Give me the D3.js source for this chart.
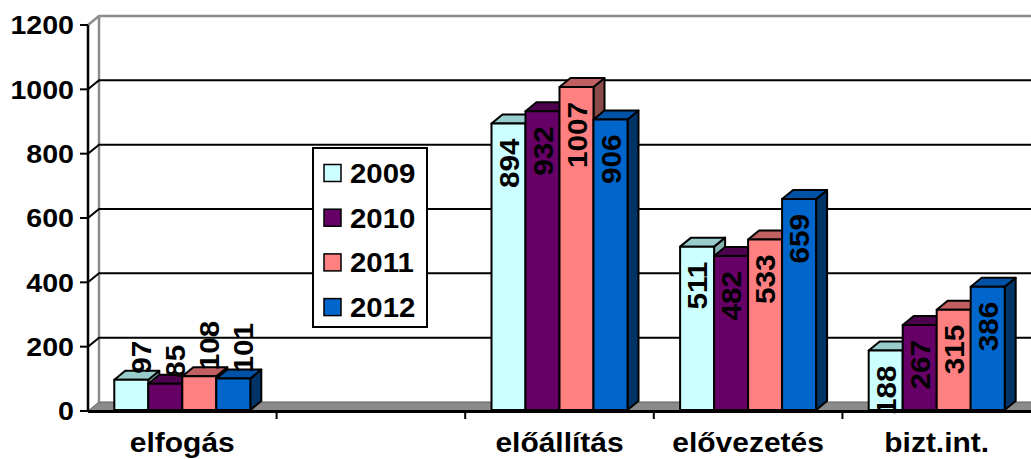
<!DOCTYPE html>
<html><head><meta charset="utf-8">
<script src="https://cdn.jsdelivr.net/npm/d3@7/dist/d3.min.js"></script>
<style>body{margin:0;background:#fff}svg{display:block}text{font-family:Arial,"Liberation Sans",sans-serif;font-weight:bold;fill:#000}</style>
</head><body>
<svg id="c" width="1031" height="459"></svg>
<script>
const categories = ["elfogás", "", "előállítás", "elővezetés", "bizt.int."];
const seriesNames = ["2009", "2010", "2011", "2012"];
const values2009 = [97, null, 894, 511, 188];
const values2010 = [85, null, 932, 482, 267];
const values2011 = [108, null, 1007, 533, 315];
const values2012 = [101, null, 906, 659, 386];
const yTicks = [0, 200, 400, 600, 800, 1000, 1200];

const seriesValues = [values2009, values2010, values2011, values2012];
const front = ["#CCFFFF", "#660066", "#FF8080", "#0066CC"];
const topC = ["#99CCCC", "#4D004D", "#C06060", "#0052A6"];
const sideC = ["#88B3B3", "#330033", "#8B4A4A", "#003366"];

const svg = d3.select("#c");
const X0 = 88, X1 = 1031, Y0 = 411, Y1 = 25, DX = 11, DY = 9;
const x = d3.scaleBand().domain(d3.range(categories.length)).range([X0, X1]).paddingInner(0).paddingOuter(0);
const y = d3.scaleLinear().domain([0, 1200]).range([Y0, Y1]);
const bw = 34;
const groupW = bw * seriesNames.length;

// floor
svg.append("path").attr("d", `M${X0},${Y0}L${X1+20},${Y0}L${X1+20+DX},${Y0-DY}L${X0+DX},${Y0-DY}Z`)
  .attr("fill", "#8a8a8a").attr("stroke", "#606060").attr("stroke-width", 1);

// back wall border
svg.append("path").attr("d", `M${X0},${y(1200)}L${X0+DX},${y(1200)-DY}L${X1+5},${y(1200)-DY}`)
  .attr("fill", "none").attr("stroke", "#8c8c8c").attr("stroke-width", 2.5);
svg.append("line").attr("x1", X0+DX).attr("x2", X0+DX).attr("y1", y(1200)-DY).attr("y2", Y0-DY)
  .attr("stroke", "#8c8c8c").attr("stroke-width", 2.5);

// gridlines
yTicks.filter(t => t > 0 && t < 1200).forEach(t => {
  svg.append("path").attr("d", `M${X0},${y(t)}L${X0+DX},${y(t)-DY}L${X1+5},${y(t)-DY}`)
    .attr("fill", "none").attr("stroke", "#000").attr("stroke-width", 2);
});

// y axis
svg.append("line").attr("x1", X0).attr("x2", X0).attr("y1", y(1200)).attr("y2", Y0+1)
  .attr("stroke", "#000").attr("stroke-width", 2.5);
yTicks.forEach(t => {
  svg.append("line").attr("x1", X0-8).attr("x2", X0).attr("y1", y(t)).attr("y2", y(t))
    .attr("stroke", "#000").attr("stroke-width", 2);
  svg.append("text").attr("transform", `translate(74,${y(t)}) scale(1.1,1)`).attr("dy", "0.36em").attr("text-anchor", "end")
    .attr("font-size", 26).text(t);
});

// bars
categories.forEach((c, ci) => {
  const gx = x(ci) + (x.bandwidth() - groupW) / 2;
  seriesValues.forEach((vals, si) => {
    const v = vals[ci];
    if (v == null) return;
    const bx = gx + si * bw, bt = y(v), bb = Y0 - 1;
    const g = svg.append("g").attr("stroke", "#000").attr("stroke-width", 2).attr("stroke-linejoin", "round");
    g.append("path").attr("d", `M${bx+bw},${bt}L${bx+bw+DX},${bt-DY}L${bx+bw+DX},${bb-DY}L${bx+bw},${bb}Z`).attr("fill", sideC[si]);
    g.append("path").attr("d", `M${bx},${bt}L${bx+DX},${bt-DY}L${bx+bw+DX},${bt-DY}L${bx+bw},${bt}Z`).attr("fill", topC[si]);
    g.append("rect").attr("x", bx).attr("y", bt).attr("width", bw).attr("height", bb - bt).attr("fill", front[si]);
  });
});

// bottom axis line and ticks
svg.append("line").attr("x1", X0).attr("x2", X1+5).attr("y1", Y0+0.5).attr("y2", Y0+0.5)
  .attr("stroke", "#000").attr("stroke-width", 3);
d3.range(1, categories.length).forEach(i => {
  svg.append("line").attr("x1", x(i)).attr("x2", x(i)).attr("y1", Y0).attr("y2", Y0+8)
    .attr("stroke", "#000").attr("stroke-width", 2);
});
categories.forEach((c, ci) => {
  svg.append("text").attr("transform", `translate(${x(ci) + x.bandwidth()/2},452) scale(1.11,1)`).attr("text-anchor", "middle")
    .attr("font-size", 27).text(c);
});

// data labels
const fs = 28;
categories.forEach((c, ci) => {
  const gx = x(ci) + (x.bandwidth() - groupW) / 2;
  seriesValues.forEach((vals, si) => {
    const v = vals[ci];
    if (v == null) return;
    const bx = gx + si * bw, bt = y(v);
    const h = Y0 - bt;
    const len = String(v).length * fs * 0.556 * 1.06;
    const cx = bx + bw/2;
    if (h > len + 5) {
      svg.append("text").attr("transform", `translate(${cx + 0.36*fs},${bt + 15}) rotate(-90) scale(1.06,1)`)
        .attr("text-anchor", "end").attr("font-size", fs).text(v);
    } else {
      svg.append("text").attr("transform", `translate(${cx + 10},${bt - 6}) rotate(-90) scale(1.06,1)`)
        .attr("dy", "0.36em").attr("text-anchor", "start").attr("font-size", fs).text(v);
    }
  });
});

// legend
const lg = svg.append("g");
lg.append("rect").attr("x", 313).attr("y", 148).attr("width", 114).attr("height", 179)
  .attr("fill", "#fff").attr("stroke", "#000").attr("stroke-width", 2);
seriesNames.forEach((n, i) => {
  const cy = 173 + i * 44.7;
  lg.append("rect").attr("x", 324).attr("y", cy - 8.5).attr("width", 17).attr("height", 17)
    .attr("fill", front[i]).attr("stroke", "#000").attr("stroke-width", 1.5);
  lg.append("text").attr("transform", `translate(350,${cy}) scale(1.05,1)`).attr("dy", "0.36em").attr("font-size", 28).text(n);
});
</script>
</body></html>
